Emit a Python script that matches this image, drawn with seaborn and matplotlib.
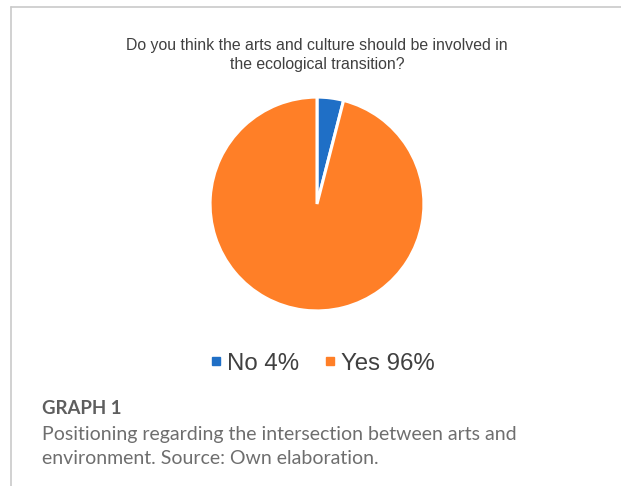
import matplotlib
matplotlib.use("Agg")
import matplotlib.pyplot as plt
import seaborn as sns
from matplotlib.lines import Line2D

categories = ["No", "Yes"]
values = [4, 96]
colors = ["#1F6FC6", "#FF7F27"]
title = "Do you think the arts and culture should be involved in\nthe ecological transition?"
caption_head = "GRAPH 1"
caption_body = "Positioning regarding the intersection between arts and\nenvironment. Source: Own elaboration."

sns.set_theme(style="white")
plt.rcParams['font.family'] = ['Liberation Sans', 'DejaVu Sans']

W, H = 621, 486
fig = plt.figure(figsize=(W / 100, H / 100), dpi=100)
fig.patch.set_facecolor("white")

# frame lines (top and left)
fig.add_artist(Line2D([11 / W, 1.0], [1 - 7.5 / H, 1 - 7.5 / H], color="#c9c9c9", lw=1.2))
fig.add_artist(Line2D([11 / W, 11 / W], [0, 1 - 7.5 / H], color="#c9c9c9", lw=1.2))

cx, cy, r = 317, 204, 108
ax = fig.add_axes([(cx - r) / W, 1 - (cy + r) / H, 2 * r / W, 2 * r / H])
ax.pie(values, colors=colors, startangle=90, counterclock=False, radius=1,
       wedgeprops=dict(edgecolor="white", linewidth=2.2))
ax.set_xlim(-1.01, 1.01)
ax.set_ylim(-1.01, 1.01)
ax.set_aspect("equal")
ax.axis("off")

fig.text(317 / W, 1 - 55 / H, title, ha="center", va="center", fontsize=11.4,
         color="#404040", linespacing=1.28)

handles = [Line2D([], [], marker="s", linestyle="none", markersize=6,
                  markerfacecolor=c, markeredgecolor=c) for c in colors]
labels = [f"{c} {v}%" for c, v in zip(categories, values)]
fig.legend(handles, labels, loc="center", bbox_to_anchor=(322 / W, 1 - 363.5 / H),
           ncol=2, frameon=False, fontsize=17.3, handletextpad=0.15,
           columnspacing=1.0, handlelength=0.6, labelcolor="#404040")

fig.text(42 / W, 1 - 408 / H, caption_head, ha="left", va="center", fontsize=13.4,
         fontweight="bold", color="#5e5e5e", family=["Lato", "DejaVu Sans"])
fig.text(42 / W, 1 - 446 / H, caption_body, ha="left", va="center", fontsize=14,
         color="#6e6e6e", family=["Lato", "DejaVu Sans"], linespacing=1.5)

fig.savefig("out.png", dpi=100, facecolor="white")
